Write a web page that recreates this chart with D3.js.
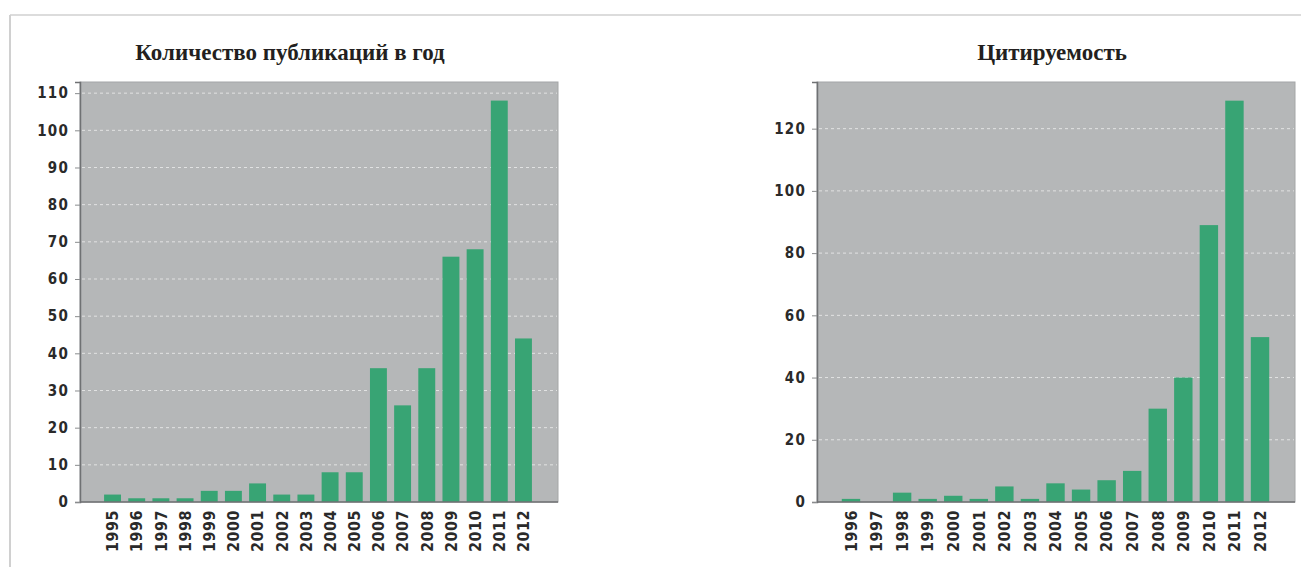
<!DOCTYPE html>
<html>
<head>
<meta charset="utf-8">
<script src="https://cdn.jsdelivr.net/npm/d3@7/dist/d3.min.js"></script>
<style>
  body { margin: 0; background: #fff; }
  svg { display: block; }
</style>
</head>
<body>
<svg id="chart" width="1301" height="567"></svg>
<script>
// data
var pubYears = ["1995","1996","1997","1998","1999","2000","2001","2002","2003","2004","2005","2006","2007","2008","2009","2010","2011","2012"];
var pubCounts = [2, 1, 1, 1, 3, 3, 5, 2, 2, 8, 8, 36, 26, 36, 66, 68, 108, 44];
var pubTicks = [0, 10, 20, 30, 40, 50, 60, 70, 80, 90, 100, 110];

var citeYears = ["1996","1997","1998","1999","2000","2001","2002","2003","2004","2005","2006","2007","2008","2009","2010","2011","2012"];
var citeCounts = [1, 0, 3, 1, 2, 1, 5, 1, 6, 4, 7, 10, 30, 40, 89, 129, 53];
var citeTicks = [0, 20, 40, 60, 80, 100, 120];

var titles = ["Количество публикаций в год", "Цитируемость"];

var svg = d3.select("#chart");
var barColor = "#38a474";
var plotColor = "#b5b7b8";

// page frame
svg.append("line").attr("x1", 10).attr("x2", 1301).attr("y1", 15).attr("y2", 15)
    .attr("stroke", "#dcdcdc").attr("stroke-width", 2);
svg.append("line").attr("x1", 10).attr("x2", 10).attr("y1", 15).attr("y2", 567)
    .attr("stroke", "#d0d0d0").attr("stroke-width", 2);

drawChart({
    title: titles[0], titleX: 290,
    years: pubYears, values: pubCounts, ticks: pubTicks, maxY: 113,
    left: 80, right: 558, bandStart: 92, bandEnd: 544, pad: 0.3
});

drawChart({
    title: titles[1], titleX: 1052,
    years: citeYears, values: citeCounts, ticks: citeTicks, maxY: 135,
    left: 817, right: 1295, bandStart: 829, bandEnd: 1282, pad: 0.28
});

function drawChart(c) {
    var top = 82, bottom = 502;
    var g = svg.append("g");

    var x = d3.scaleBand()
        .domain(c.years)
        .range([c.bandStart, c.bandEnd])
        .paddingInner(c.pad)
        .paddingOuter(0.5);

    var y = d3.scaleLinear()
        .domain([0, c.maxY])
        .range([bottom, top]);

    g.append("text")
        .attr("x", c.titleX)
        .attr("y", 60)
        .attr("text-anchor", "middle")
        .attr("font-family", "Liberation Serif, Times New Roman, serif")
        .attr("font-weight", "bold")
        .attr("font-size", 23)
        .attr("fill", "#231f20")
        .text(c.title);

    // plot background
    g.append("rect")
        .attr("x", c.left).attr("y", top)
        .attr("width", c.right - c.left).attr("height", bottom - top)
        .attr("fill", plotColor)
        .attr("stroke", "#a4a6a7");

    // dashed grid
    g.selectAll(".grid")
        .data(c.ticks.filter(function(d) { return d > 0; }))
        .enter().append("line")
        .attr("x1", c.left + 2).attr("x2", c.right - 1)
        .attr("y1", function(d) { return y(d); })
        .attr("y2", function(d) { return y(d); })
        .attr("stroke", "#eeeeee")
        .attr("stroke-opacity", 0.8)
        .attr("stroke-dasharray", "3,3");

    g.selectAll(".bar")
        .data(c.values)
        .enter().append("rect")
        .attr("x", function(d, i) { return x(c.years[i]); })
        .attr("y", function(d) { return y(d); })
        .attr("width", x.bandwidth())
        .attr("height", function(d) { return bottom - y(d); })
        .attr("fill", barColor);

    var yAxis = g.append("g")
        .attr("transform", "translate(" + c.left + ",0)")
        .call(d3.axisLeft(y).tickValues(c.ticks).tickSize(5).tickPadding(6));
    yAxis.select(".domain").attr("stroke", "#6f7173").attr("stroke-width", 1.5);
    yAxis.selectAll(".tick line").attr("stroke", "#8a8c8e");
    yAxis.selectAll("text")
        .attr("font-family", "DejaVu Sans Condensed, DejaVu Sans, sans-serif")
        .attr("font-weight", "bold")
        .attr("font-size", 15)
        .attr("letter-spacing", 1.2)
        .attr("fill", "#2a2a2a");

    var xAxis = g.append("g")
        .attr("transform", "translate(0," + bottom + ")")
        .call(d3.axisBottom(x).tickSize(0).tickPadding(0));
    xAxis.select(".domain").attr("d", "M" + c.left + ",0H" + c.right)
        .attr("stroke", "#6f7173").attr("stroke-width", 1.5);
    xAxis.selectAll("text")
        .attr("transform", "rotate(-90)")
        .attr("text-anchor", "end")
        .attr("x", -8)
        .attr("y", 0)
        .attr("dy", "0.36em")
        .attr("font-family", "DejaVu Sans Condensed, DejaVu Sans, sans-serif")
        .attr("font-weight", "bold")
        .attr("font-size", 16)
        .attr("letter-spacing", 0.5)
        .attr("fill", "#2a2a2a");
}
</script>
</body>
</html>
